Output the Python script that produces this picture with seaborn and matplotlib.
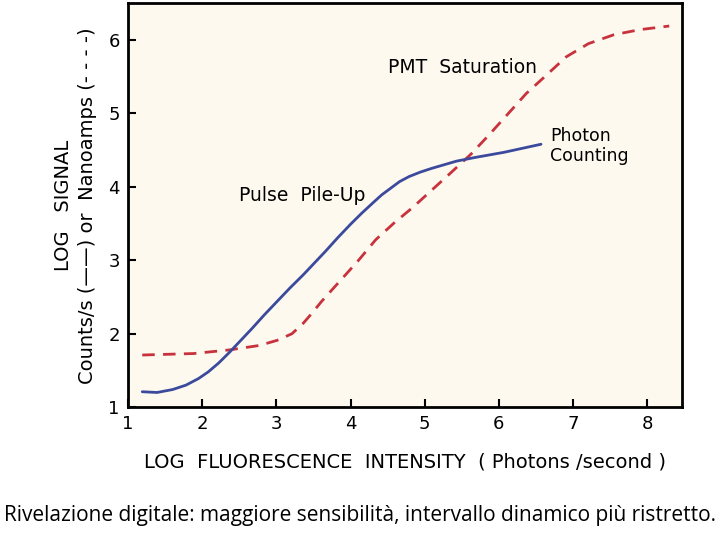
import matplotlib
matplotlib.use("Agg")
import matplotlib.pyplot as plt
import seaborn as sns
import pandas as pd

# photon counting curve (solid)
pc_x = [1.19, 1.39, 1.6, 1.78, 1.95, 2.08, 2.22, 2.37, 2.52, 2.67, 2.84, 3.01, 3.18, 3.36, 3.51,
        3.66, 3.83, 4.0, 4.15, 4.30, 4.42, 4.54, 4.66, 4.79, 4.94, 5.09, 5.26, 5.43, 5.68, 6.07, 6.57]
pc_y = [1.21, 1.20, 1.24, 1.30, 1.39, 1.48, 1.60, 1.75, 1.91, 2.07, 2.26, 2.44, 2.62, 2.80, 2.96,
        3.12, 3.31, 3.49, 3.64, 3.78, 3.89, 3.98, 4.07, 4.14, 4.20, 4.25, 4.30, 4.35, 4.40, 4.47, 4.58]

# PMT current curve (dashed)
pmt_x = [1.19, 1.88, 2.37, 2.77, 3.01, 3.21, 3.36, 3.48, 3.61, 3.85, 4.10, 4.34, 4.59, 4.84, 5.09,
         5.33, 5.63, 5.88, 6.13, 6.37, 6.62, 6.91, 7.21, 7.55, 7.90, 8.30]
pmt_y = [1.71, 1.73, 1.78, 1.84, 1.91, 2.00, 2.14, 2.28, 2.44, 2.71, 2.99, 3.28, 3.51, 3.72, 3.95,
         4.17, 4.45, 4.72, 5.00, 5.27, 5.50, 5.77, 5.95, 6.07, 6.14, 6.19]

sns.set_style("white")
plt.rcParams['font.family'] = ['DejaVu Sans']
plt.rcParams['text.color'] = 'black'
plt.rcParams['axes.labelcolor'] = 'black'

fig = plt.figure(figsize=(7.2, 5.4), dpi=100)
ax = fig.add_axes([0.178, 0.246, 0.769, 0.748])
ax.set_facecolor("#fdf9ef")

pc = pd.DataFrame({"x": pc_x, "y": pc_y})
pmt = pd.DataFrame({"x": pmt_x, "y": pmt_y})
sns.lineplot(data=pmt, x="x", y="y", ax=ax, color="#c8323c", lw=2.0, sort=False)
ax.lines[-1].set_dashes((4.5, 3))
sns.lineplot(data=pc, x="x", y="y", ax=ax, color="#3b4a9c", lw=2.0, sort=False)

ax.set_xlim(1, 8.47)
ax.set_ylim(1, 6.5)
ax.set_xticks(range(1, 9))
ax.set_yticks(range(1, 7))
ax.tick_params(direction="in", length=6, width=1.5, labelsize=13, pad=6, colors="black",
               bottom=True, left=True)
for s in ax.spines.values():
    s.set_linewidth(2)
    s.set_color("black")

ax.text(4.5, 5.62, "PMT  Saturation", fontsize=13.5, va="center", ha="left")
ax.text(6.69, 4.55, "Photon\nCounting", fontsize=12.5, va="center", ha="left", linespacing=1.15)
ax.text(2.5, 3.88, "Pulse  Pile-Up", fontsize=13.5, va="center", ha="left")

ax.set_xlabel("LOG  FLUORESCENCE  INTENSITY  ( Photons /second )", fontsize=14, labelpad=14)
ax.set_ylabel("LOG   SIGNAL\nCounts/s (——) or  Nanoamps (- - - -)", fontsize=14, labelpad=8,
              linespacing=1.35)

fig.text(0.5, 0.045, "Rivelazione digitale: maggiore sensibilità, intervallo dinamico più ristretto.",
         ha="center", va="center", fontsize=15, family="Open Sans", color="black")

fig.savefig("out.png", dpi=100, facecolor="white")
